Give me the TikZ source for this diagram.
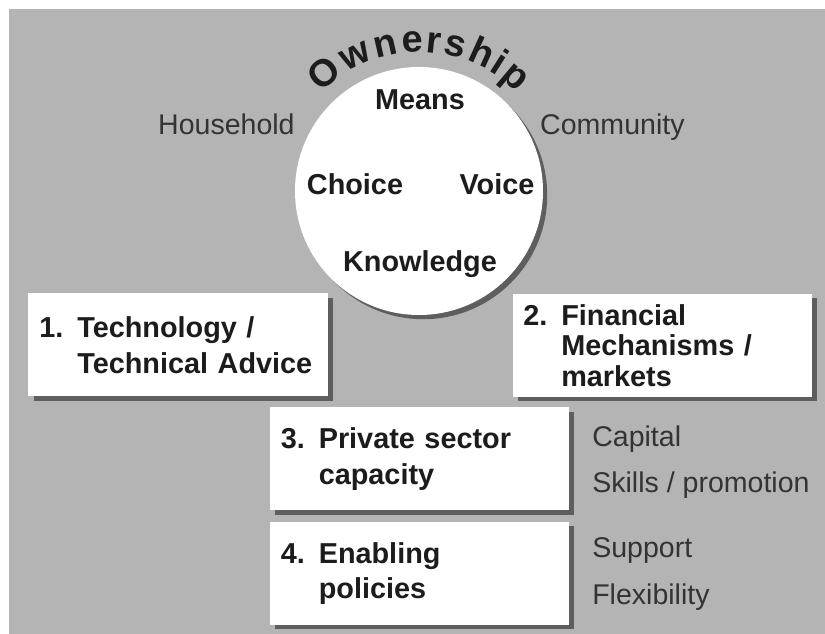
\documentclass[tikz,border=0pt]{standalone}
\usepackage{fontspec}
\setmainfont{Liberation Sans}
\usepackage{xcolor}
\usepackage{tikz}
\usetikzlibrary{positioning, shadows, decorations.text}
\definecolor{paneltone}{HTML}{B4B4B4}
\definecolor{shadowtone}{HTML}{5E5E5E}
\definecolor{inktone}{HTML}{1C1C1C}
\definecolor{softink}{HTML}{333333}
\newcommand{\itemno}[1]{\makebox[0.95cm][l]{#1}}

\begin{document}
\begin{tikzpicture}[
  pillar/.style={
    rectangle,
    fill=white,
    minimum width=7.475cm,
    minimum height=2.575cm,
    inner xsep=0.27cm,
    text width=6.935cm,
    align=left,
    text=inktone,
    font=\fontsize{20.5}{25.5}\selectfont\bfseries,
    drop shadow={shadow xshift=3.6pt, shadow yshift=-3pt, fill=shadowtone, opacity=1}
  },
  keyword/.style={
    anchor=base,
    inner sep=0pt,
    text=inktone,
    font=\fontsize{20.5}{25}\selectfont\bfseries
  },
  sidenote/.style={
    inner sep=0pt,
    text=softink,
    font=\fontsize{20.3}{24}\selectfont
  }
]
  \useasboundingbox (0,0) rectangle (20.625,15.85);
  \fill[paneltone] (0.225,0) rectangle (20.625,15.625);

  % Central circle
  \node[circle, fill=white, minimum size=6.2cm, inner sep=0pt,
        drop shadow={shadow xshift=3pt, shadow yshift=-3pt, fill=shadowtone, opacity=1}]
        (core) at (10.475,11.075) {};
  \path[decorate, decoration={text effects along path, text={Ownership},
        text effects/.cd, text along path, fit text to path,
        every character/.style={font=\fontsize{27}{27}\selectfont\bfseries, text=inktone}}]
        (core.center) ++(135:3.47) arc[start angle=135, end angle=45, radius=3.47];

  \node[keyword] (means) at (10.5,13.1) {Means};
  \node[keyword] (choice) at (8.875,10.975) {Choice};
  \node[keyword] (voice) at (12.425,10.975) {Voice};
  \node[keyword] (knowledge) at (10.5,9.05) {Knowledge};

  \node[sidenote, anchor=base] (household) at (5.66,12.475) {Household};
  \node[sidenote, anchor=base] (community) at (15.31,12.475) {Community};

  % Row 1
  \node[pillar] (tech) at (4.45,7.225) {\itemno{1.}Technology /\\\itemno{}Technical Advice};
  \node[pillar, font=\fontsize{20.5}{21.5}\selectfont\bfseries] (finance) at (16.55,7.2125)
        {\itemno{2.}Financial\\\itemno{}Mechanisms /\\\itemno{}markets};

  % Row 2 and 3
  \node[pillar] (private) at (10.4875,4.375) {\itemno{3.}Private sector\\\itemno{}capacity};
  \node[pillar] (policy) at (10.4875,1.5125) {\itemno{4.}Enabling\\\itemno{}policies};

  % Notes beside the lower boxes
  \node[sidenote, anchor=base west] (capital) at (14.8,4.675) {Capital};
  \node[sidenote, anchor=base west] (skills) at (14.8,3.525) {Skills / promotion};
  \node[sidenote, anchor=base west] (support) at (14.8,1.9) {Support};
  \node[sidenote, anchor=base west] (flex) at (14.8,0.725) {Flexibility};
\end{tikzpicture}
\end{document}
